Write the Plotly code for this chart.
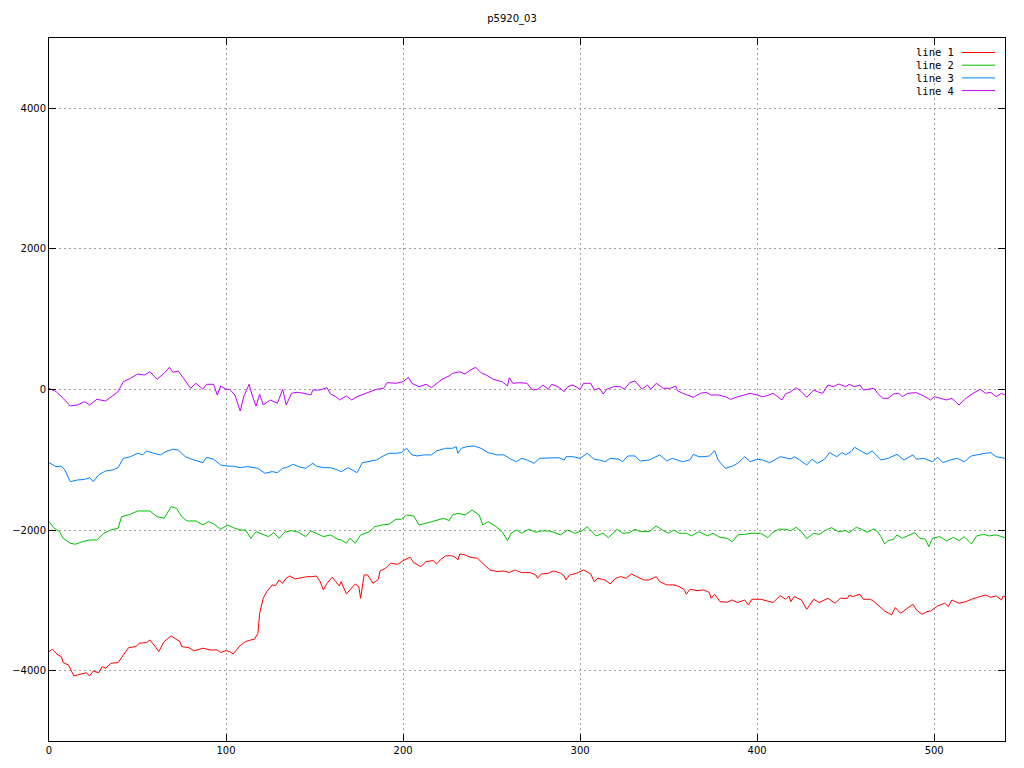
import plotly.graph_objects as go

# ---- data (x position, value) ----
l1_x = [0,2,5,7,8,11,14,18,21,23,25,28,30,32,35,39,42,45,49,51,55,57,60,62,65,69,71,74,75,79,82,85,87,91,95,97,100,102,104,108,111,114,116,118,119,121,123,126,128,130,132,134,136,139,143,146,149,151,153,155,157,160,162,164,165,168,170,173,175,176,178,180,183,186,187,190,193,197,200,204,206,210,213,217,219,221,224,227,229,231,232,235,238,242,244,247,249,253,257,260,263,267,272,275,276,278,282,285,289,291,292,294,298,302,306,308,310,314,317,320,323,326,329,332,336,339,343,345,349,353,356,359,360,362,366,370,373,374,376,379,383,386,389,393,395,397,402,405,409,413,416,418,419,421,425,428,432,435,440,444,447,451,452,454,458,460,464,466,469,472,476,478,481,484,488,490,493,496,498,502,506,508,510,514,518,521,526,529,532,535,538,539,540]
l1_y = [-3728,-3695,-3776,-3800,-3885,-3918,-4074,-4050,-4030,-4074,-4003,-4030,-3942,-3965,-3894,-3885,-3776,-3672,-3657,-3610,-3600,-3563,-3657,-3728,-3586,-3505,-3539,-3586,-3657,-3672,-3718,-3695,-3680,-3705,-3705,-3742,-3714,-3728,-3761,-3643,-3586,-3563,-3553,-3467,-3183,-2970,-2875,-2780,-2790,-2709,-2757,-2685,-2652,-2695,-2671,-2662,-2662,-2652,-2723,-2851,-2757,-2671,-2733,-2795,-2733,-2908,-2851,-2766,-2804,-2970,-2638,-2638,-2757,-2700,-2581,-2543,-2472,-2486,-2434,-2386,-2462,-2519,-2448,-2434,-2481,-2424,-2367,-2363,-2377,-2424,-2339,-2353,-2386,-2400,-2448,-2519,-2567,-2590,-2581,-2605,-2567,-2605,-2605,-2638,-2685,-2624,-2614,-2581,-2614,-2652,-2709,-2638,-2614,-2567,-2624,-2733,-2685,-2709,-2766,-2685,-2662,-2685,-2624,-2662,-2709,-2709,-2662,-2733,-2780,-2780,-2804,-2851,-2913,-2842,-2861,-2851,-2889,-2970,-2913,-3017,-3027,-2994,-3031,-2994,-3065,-2984,-2984,-3003,-3031,-2932,-2984,-2937,-3017,-2946,-2994,-3126,-2984,-3031,-2970,-3041,-2970,-2970,-2923,-2946,-2913,-2984,-2984,-3017,-3088,-3150,-3207,-3102,-3183,-3126,-3055,-3136,-3197,-3159,-3150,-3079,-3041,-3088,-2994,-3041,-3017,-2984,-2946,-2923,-2956,-2937,-2994,-2937,-2946]

l2_x = [0,3,6,8,12,15,19,23,27,31,35,39,41,46,50,54,57,61,65,69,72,75,78,83,87,90,93,97,101,104,108,111,114,117,119,124,127,130,133,137,141,145,148,151,155,159,163,165,168,170,173,176,181,184,188,192,196,199,202,206,209,213,216,220,223,226,228,231,235,239,243,245,248,252,256,259,261,264,267,271,275,278,283,289,293,297,301,304,307,309,313,316,321,324,328,331,334,339,343,347,350,353,356,360,363,367,372,375,379,383,386,389,393,397,402,406,409,412,416,419,422,425,428,432,435,439,442,446,450,452,456,459,462,466,468,470,472,474,477,479,482,485,489,492,495,497,499,503,507,511,514,517,521,524,528,531,535,540]
l2_y = [-1880,-1974,-2022,-2116,-2187,-2201,-2164,-2140,-2140,-2045,-1998,-1974,-1809,-1775,-1728,-1728,-1728,-1809,-1832,-1667,-1690,-1809,-1870,-1870,-1927,-1880,-1910,-1988,-1927,-1965,-1998,-1998,-2116,-2022,-2045,-2093,-2036,-2116,-2031,-2008,-2031,-2093,-2012,-2045,-2093,-2069,-2130,-2140,-2187,-2116,-2187,-2069,-2022,-1951,-1927,-1917,-1846,-1846,-1785,-1799,-1927,-1903,-1880,-1856,-1832,-1865,-1785,-1761,-1785,-1714,-1785,-1927,-1880,-1941,-2022,-2150,-2045,-1998,-2045,-1988,-2031,-2012,-2012,-2069,-1998,-2045,-2012,-1951,-2031,-2083,-2045,-2107,-1988,-2045,-2036,-1988,-2022,-2022,-1941,-2008,-2045,-1998,-2045,-2045,-2083,-2022,-2083,-2045,-2102,-2116,-2164,-2069,-2060,-2045,-2045,-2107,-2031,-1988,-1988,-2008,-1960,-2022,-2121,-2045,-2060,-1998,-1965,-2022,-2008,-2036,-1960,-1988,-2031,-1984,-2022,-2093,-2197,-2150,-2130,-2069,-2116,-2083,-2036,-2116,-2130,-2235,-2116,-2093,-2154,-2102,-2150,-2093,-2197,-2083,-2060,-2083,-2069,-2107]

l3_x = [0,4,7,9,12,16,20,23,25,28,32,36,39,42,46,50,53,55,59,63,66,70,73,77,82,87,89,93,97,101,104,108,112,116,118,122,126,129,132,134,138,141,145,149,151,155,159,163,165,169,174,177,181,185,188,192,196,199,202,205,208,212,216,219,224,228,230,231,233,236,240,244,248,253,257,260,264,267,270,274,277,281,284,288,291,292,296,300,304,308,311,314,317,322,324,327,331,334,339,343,345,349,352,355,358,362,364,367,370,373,376,378,382,386,389,393,396,400,403,407,413,419,421,424,428,431,434,438,441,445,448,450,453,455,458,462,465,467,470,474,479,483,488,490,494,499,502,505,509,513,517,521,525,529,532,535,540]
l3_y = [-1041,-1097,-1090,-1145,-1311,-1287,-1280,-1254,-1311,-1216,-1159,-1145,-1112,-979,-956,-907,-930,-874,-907,-930,-884,-850,-860,-956,-1003,-1041,-964,-992,-1074,-1090,-1090,-1112,-1097,-1112,-1121,-1192,-1168,-1183,-1121,-1112,-1064,-1097,-1121,-1050,-1090,-1112,-1112,-1145,-1168,-1112,-1183,-1041,-1027,-1003,-956,-907,-907,-898,-836,-930,-945,-930,-930,-874,-836,-836,-813,-907,-836,-813,-803,-836,-898,-930,-930,-979,-1027,-979,-1003,-1050,-979,-979,-970,-970,-1003,-956,-956,-979,-907,-992,-1003,-1027,-979,-992,-1027,-945,-945,-1017,-1003,-956,-930,-1017,-979,-1003,-1027,-1003,-922,-956,-956,-945,-870,-1003,-1121,-1090,-1050,-956,-1027,-992,-1003,-1041,-956,-989,-956,-1003,-1074,-992,-1050,-992,-898,-956,-898,-930,-884,-822,-860,-922,-874,-930,-1003,-979,-922,-1003,-930,-992,-979,-1027,-964,-1041,-1003,-979,-1027,-945,-922,-907,-898,-956,-979]

l4_x = [0,4,8,12,16,20,23,27,32,36,39,42,46,50,54,57,61,65,68,70,73,76,80,83,87,89,93,95,97,100,102,105,108,110,113,115,117,119,121,125,129,132,134,137,140,144,148,149,153,157,159,162,164,168,171,174,178,181,185,189,191,196,200,203,205,209,213,216,219,222,226,228,232,235,238,241,244,247,251,256,259,260,262,266,270,273,276,279,282,284,288,291,293,296,300,302,306,308,311,313,315,319,323,325,328,331,335,338,340,343,347,351,354,355,358,361,364,368,371,374,378,382,385,388,392,396,400,403,405,409,414,416,419,422,425,428,432,434,437,440,443,446,450,452,455,458,460,463,466,468,471,474,477,480,482,485,490,494,498,500,503,507,510,514,518,522,526,529,532,535,538,540]
l4_y = [17,-30,-125,-235,-220,-173,-220,-140,-163,-92,-31,111,159,220,206,253,145,230,316,245,263,159,17,88,3,74,74,-78,50,3,3,-78,-306,-102,74,-102,-235,-68,-220,-149,-196,3,-220,-54,-40,-54,-78,-7,-7,26,-64,-102,-149,-92,-149,-102,-64,-31,3,17,97,88,111,173,88,40,74,26,88,145,192,230,253,220,277,316,239,206,145,111,50,168,88,97,88,-7,3,64,3,74,31,-31,40,64,3,88,88,-7,17,-64,3,40,40,3,97,121,3,64,3,88,17,17,50,-17,-54,-78,-111,-54,-40,-78,-78,-102,-140,-111,-78,-54,-78,-102,-92,-54,-149,-64,-31,26,-31,-111,-7,-31,-54,64,40,78,40,74,40,64,-7,3,17,-54,-125,-125,-64,-54,-102,-54,-45,-92,-149,-102,-125,-149,-125,-220,-125,-54,3,-54,-40,-102,-54,-78]

series_names = ["line 1", "line 2", "line 3", "line 4"]
series_colors = ["#ff0000", "#00c000", "#0080ff", "#c000ff"]
x_ticks = [0, 100, 200, 300, 400, 500]
y_ticks = [-4000, -2000, 0, 2000, 4000]
title_text = "p5920_03"

xs = [l1_x, l2_x, l3_x, l4_x]
ys = [l1_y, l2_y, l3_y, l4_y]

fig = go.Figure()
for name, color, x, y in zip(series_names, series_colors, xs, ys):
    fig.add_trace(go.Scatter(x=x, y=y, mode="lines", name=name,
                             line=dict(color=color, width=1), showlegend=False))

# the page body adds an 8px margin around the figure
OFF = 8
W, H = 1008, 752
PL, PR, PT, PB = 49, 1005, 38, 741        # plot box in page pixels
ml, mt = PL - OFF, PT - OFF
mr = W - (PR - OFF)
mb = H - (PB - OFF)
pw, ph = PR - PL, PB - PT

# legend drawn gnuplot-style: text, then line sample on the right
annotations = []
shapes = []
for i, (name, color) in enumerate(zip(series_names, series_colors)):
    ypix = 52.5 + i * 12.7
    yp = 1 - (ypix - PT) / ph
    annotations.append(dict(text=name, x=(956 - PL) / pw, y=yp, xref="paper", yref="paper",
                            xanchor="right", yanchor="middle", showarrow=False,
                            font=dict(family="DejaVu Sans Mono", size=10.5, color="#000000")))
    shapes.append(dict(type="line", xref="paper", yref="paper",
                       x0=(962 - PL) / pw, x1=(995 - PL) / pw, y0=yp, y1=yp,
                       line=dict(color=color, width=1)))

axis_common = dict(showline=True, linecolor="#000000", linewidth=1, mirror="allticks",
                   ticks="inside", ticklen=7, tickcolor="#000000", tickwidth=1,
                   showgrid=True, gridcolor="#a0a0a0", gridwidth=1, griddash="2px,3px",
                   zeroline=False, automargin=False,
                   tickfont=dict(family="DejaVu Sans", size=10, color="#000000"))

fig.update_layout(
    width=W, height=H,
    margin=dict(l=ml, r=mr, t=mt, b=mb, pad=0),
    paper_bgcolor="#ffffff", plot_bgcolor="#ffffff",
    title=dict(text=title_text, x=0.5, xanchor="center", y=1 - (18 - OFF) / H, yanchor="middle",
               font=dict(family="DejaVu Sans", size=10, color="#000000")),
    xaxis=dict(range=[0, 540], tickvals=x_ticks, **axis_common),
    yaxis=dict(range=[-5000, 5000], tickvals=y_ticks, **axis_common),
    annotations=annotations, shapes=shapes,
)

fig.write_html("out.html")
